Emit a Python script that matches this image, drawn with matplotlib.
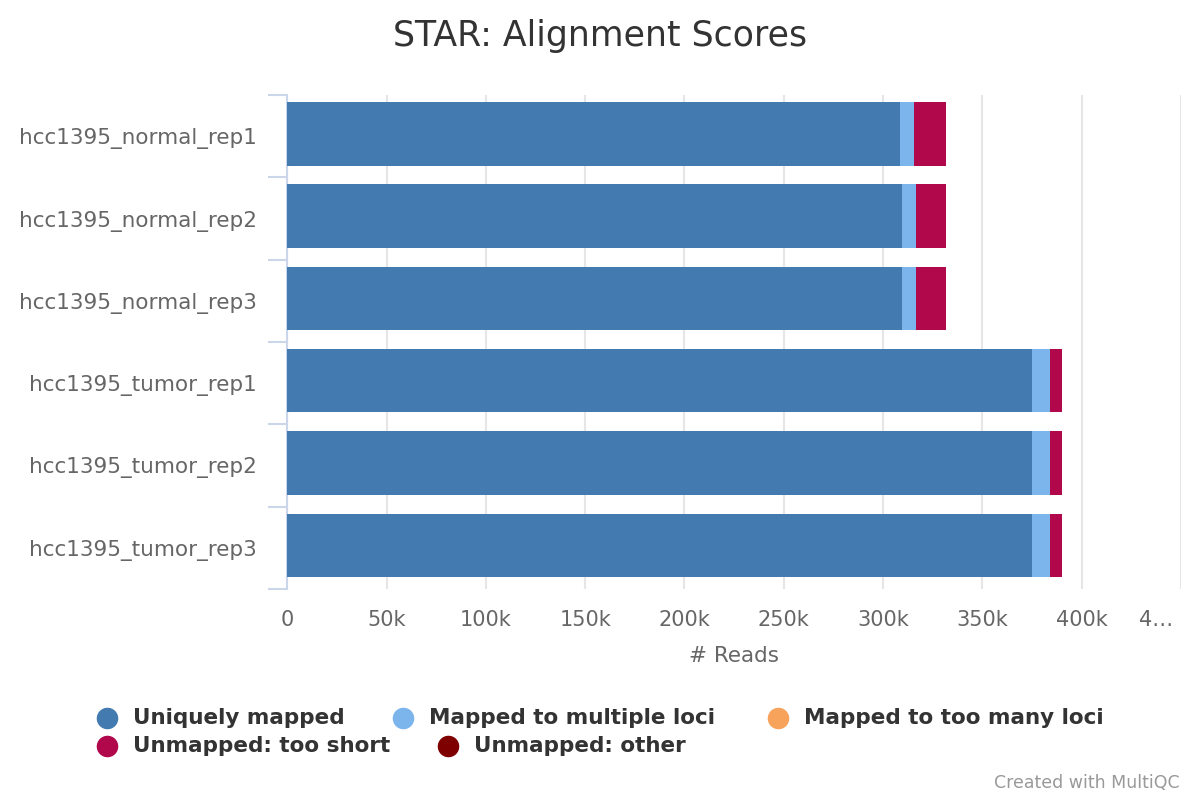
import matplotlib
matplotlib.use("Agg")
import matplotlib.pyplot as plt
from matplotlib.lines import Line2D
from matplotlib.transforms import ScaledTranslation
import numpy as np

plt.rcParams['font.family'] = ['DejaVu Sans']

samples = ["hcc1395_normal_rep1", "hcc1395_normal_rep2", "hcc1395_normal_rep3",
           "hcc1395_tumor_rep1", "hcc1395_tumor_rep2", "hcc1395_tumor_rep3"]
series_names = ["Uniquely mapped", "Mapped to multiple loci", "Mapped to too many loci",
                "Unmapped: too short", "Unmapped: other"]
series_colors = ["#437bb1", "#7cb5ec", "#f7a35c", "#b1084c", "#7f0000"]
uniquely_mapped = [308400, 309400, 309400, 375100, 375100, 375100]
multi_loci = [7100, 7100, 7100, 9100, 9100, 9100]
too_many_loci = [0, 0, 0, 0, 0, 0]
too_short = [16200, 15200, 15200, 6000, 6000, 6000]
other = [0, 0, 0, 0, 0, 0]
xticks = [0, 50000, 100000, 150000, 200000, 250000, 300000, 350000, 400000, 450000]
xtick_labels = ["0", "50k", "100k", "150k", "200k", "250k", "300k", "350k", "400k", "4…"]

series_values = [uniquely_mapped, multi_loci, too_many_loci, too_short, other]

fig = plt.figure(figsize=(12, 8), dpi=100)
ax = fig.add_axes([0.2394, 0.264, 0.984 - 0.2394, 0.881 - 0.264])

n = len(samples)
y = np.arange(n)
bar_offset = -0.03
left = np.zeros(n)
for vals, col in zip(series_values, series_colors):
    vals = np.array(vals, dtype=float)
    ax.barh(y + bar_offset, vals, left=left, height=0.77, color=col, linewidth=0, zorder=3)
    left += vals

ax.set_ylim(n - 0.5, -0.5)
ax.set_xlim(0, 450000)
ax.set_xticks(xticks)
ax.set_xticklabels(xtick_labels)
ax.set_yticks(y)
ax.set_yticklabels(samples)
ax.set_yticks(np.arange(-0.5, n, 1.0), minor=True)
ax.tick_params(axis='y', which='major', length=0, pad=22, labelsize=15.5, labelcolor="#666666")
ax.tick_params(axis='y', which='minor', length=14, width=1.5, color="#ccd6eb")
ax.tick_params(axis='x', which='major', length=0, pad=15, labelsize=15, labelcolor="#666666")

last = ax.get_xticklabels()[-1]
last.set_transform(last.get_transform() + ScaledTranslation(-25 / 100, 0, fig.dpi_scale_trans))

ax.grid(axis='x', color="#e6e6e6", linewidth=1.5, zorder=0)
for s in ['top', 'right', 'bottom']:
    ax.spines[s].set_visible(False)
ax.spines['left'].set_color("#ccd6eb")
ax.spines['left'].set_linewidth(1.5)

ax.set_xlabel("# Reads", fontsize=15.5, color="#666666", labelpad=12)

fig.text(0.5, 1 - 36 / 800, "STAR: Alignment Scores", ha='center', va='center',
         fontsize=25, color="#333333")

# legend (flow layout)
legend_pos = [(107, 718), (403, 718), (778, 718), (107, 746), (448, 746)]
for (px, py), name, col in zip(legend_pos, series_names, series_colors):
    fig.add_artist(Line2D([px / 1200], [1 - py / 800], transform=fig.transFigure,
                          marker='o', markersize=14.5, color=col, linestyle='none'))
    fig.text((px + 26) / 1200, 1 - py / 800, name, ha='left', va='center',
             fontsize=15.5, fontweight='bold', color="#333333")

fig.text(1180 / 1200, 1 - 783 / 800, "Created with MultiQC", ha='right', va='center',
         fontsize=12.5, color="#999999")

fig.savefig("out.png", dpi=100, facecolor="white")
